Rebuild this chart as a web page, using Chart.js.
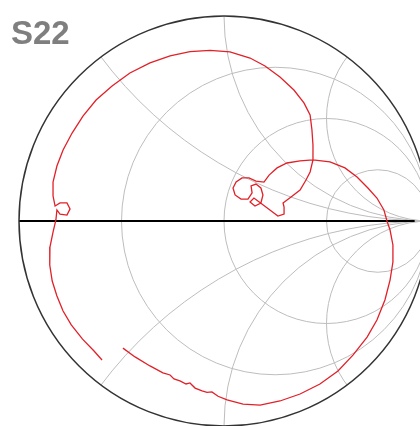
<!DOCTYPE html>
<html>
<head>
<meta charset="utf-8">
<script src="https://cdn.jsdelivr.net/npm/chart.js@4/dist/chart.umd.min.js"></script>
<style>
  body { margin: 0; background: #fff; }
  #wrap { width: 420px; height: 426px; }
</style>
</head>
<body>
<div id="wrap"><canvas id="smith" width="420" height="426"></canvas></div>
<script>
const chartTitle = "S22";

// smith chart grid values (normalised)
const resistanceTicks = [1 / 3, 1, 3];
const reactanceTicks = [0.5, 1, 2];

// S22 reflection coefficient
const s22Re = [
  -0.493, -0.434, -0.361, -0.298, -0.263, -0.244, -0.215, -0.185, -0.166, -0.141,
  -0.107, -0.083, -0.059, -0.029, 0.015, 0.093, 0.176, 0.273, 0.371, 0.468,
  0.556, 0.629, 0.698, 0.746, 0.785, 0.810, 0.824, 0.824, 0.810, 0.795,
  0.780, 0.746, 0.702, 0.649, 0.590, 0.517, 0.434,
  0.371, 0.307, 0.259, 0.220, 0.195, 0.156, 0.122, 0.088, 0.059, 0.044,
  0.054, 0.083, 0.117, 0.137, 0.132, 0.156, 0.180, 0.190, 0.180, 0.151,
  0.127, 0.146, 0.185, 0.224, 0.263, 0.293, 0.293, 0.288, 0.327, 0.371,
  0.400, 0.420, 0.434,
  0.434, 0.429, 0.420, 0.390, 0.341, 0.273, 0.200, 0.127, 0.029, -0.068,
  -0.166, -0.263, -0.361, -0.459, -0.546, -0.624, -0.688, -0.741, -0.785, -0.815,
  -0.834, -0.834, -0.824, -0.800, -0.766, -0.751, -0.766, -0.800, -0.815, -0.820,
  -0.834, -0.849, -0.850, -0.838, -0.815, -0.785, -0.745, -0.690, -0.634, -0.595
];
const s22Im = [
  -0.620, -0.663, -0.707, -0.741, -0.751, -0.770, -0.780, -0.795, -0.790, -0.815,
  -0.829, -0.836, -0.834, -0.855, -0.873, -0.893, -0.898, -0.878, -0.844, -0.795,
  -0.732, -0.654, -0.566, -0.483, -0.385, -0.288, -0.200, -0.117, -0.044, 0.000,
  0.054, 0.112, 0.161, 0.215, 0.259, 0.288, 0.298,
  0.293, 0.283, 0.259, 0.224, 0.190, 0.195, 0.210, 0.210, 0.190, 0.161,
  0.127, 0.107, 0.107, 0.137, 0.171, 0.180, 0.161, 0.127, 0.088, 0.073,
  0.093, 0.112, 0.083, 0.054, 0.024, 0.034, 0.068, 0.088, 0.117, 0.151,
  0.200, 0.239, 0.298,
  0.371, 0.444, 0.517, 0.576, 0.639, 0.702, 0.756, 0.795, 0.825, 0.832,
  0.826, 0.805, 0.771, 0.722, 0.659, 0.590, 0.512, 0.429, 0.346, 0.268,
  0.190, 0.122, 0.073, 0.088, 0.088, 0.059, 0.029, 0.034, 0.054, 0.005,
  -0.054, -0.127, -0.215, -0.293, -0.366, -0.439, -0.507, -0.576, -0.634, -0.678
];

const points = s22Re.map((re, i) => ({ x: re, y: s22Im[i] }));

const smithGrid = {
  id: "smithGrid",
  beforeDatasetsDraw(chart) {
    const { ctx, scales: { x, y } } = chart;
    const cx = x.getPixelForValue(0);
    const cy = y.getPixelForValue(0);
    const R = x.getPixelForValue(1) - cx;

    ctx.save();
    ctx.strokeStyle = "#bdbdbd";
    ctx.lineWidth = 1;

    // constant resistance circles
    resistanceTicks.forEach(r => {
      ctx.beginPath();
      ctx.arc(x.getPixelForValue(r / (r + 1)), cy, R / (r + 1), 0, Math.PI * 2);
      ctx.stroke();
    });

    // constant reactance arcs, clipped to the unit circle
    ctx.save();
    ctx.beginPath();
    ctx.arc(cx, cy, R, 0, Math.PI * 2);
    ctx.clip();
    reactanceTicks.forEach(xv => {
      [1, -1].forEach(s => {
        ctx.beginPath();
        ctx.arc(x.getPixelForValue(1), y.getPixelForValue(s / xv), R / xv, 0, Math.PI * 2);
        ctx.stroke();
      });
    });
    ctx.beginPath();
    ctx.moveTo(x.getPixelForValue(-1), cy);
    ctx.lineTo(x.getPixelForValue(1), cy);
    ctx.stroke();
    ctx.restore();

    // real axis
    ctx.strokeStyle = "#000";
    ctx.lineWidth = 2;
    ctx.beginPath();
    ctx.moveTo(x.getPixelForValue(-1), cy);
    ctx.lineTo(x.getPixelForValue(0.93), cy);
    ctx.stroke();

    // outer circle
    ctx.strokeStyle = "#333";
    ctx.lineWidth = 1.5;
    ctx.beginPath();
    ctx.arc(cx, cy, R, 0, Math.PI * 2);
    ctx.stroke();
    ctx.restore();
  },
  afterDraw(chart) {
    const { ctx } = chart;
    ctx.save();
    ctx.fillStyle = "#7f7f7f";
    ctx.font = "bold 33px 'Liberation Sans', Arial, sans-serif";
    ctx.textBaseline = "alphabetic";
    ctx.fillText(chartTitle, 11, 44);
    ctx.restore();
  }
};

new Chart(document.getElementById("smith"), {
  type: "scatter",
  data: {
    datasets: [
      {
        data: points,
        showLine: true,
        borderColor: "rgb(226,32,40)",
        borderWidth: 1.3,
        pointRadius: 0,
        tension: 0,
        clip: false,
      },
    ],
  },
  options: {
    responsive: false,
    animation: false,
    layout: { padding: 0 },
    scales: {
      x: { type: "linear", min: -224 / 205, max: 196 / 205, display: false },
      y: { type: "linear", min: -205 / 205, max: 221 / 205, display: false },
    },
    plugins: {
      legend: { display: false },
      tooltip: { enabled: false },
    },
    events: [],
  },
  plugins: [smithGrid],
});
</script>
</body>
</html>
